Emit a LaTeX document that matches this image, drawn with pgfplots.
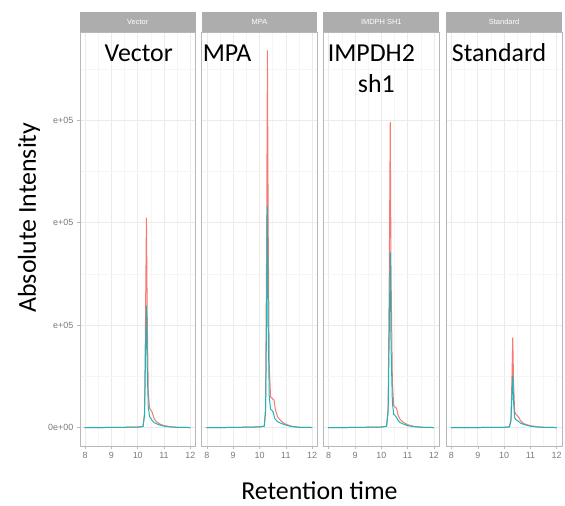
\documentclass[border=0pt]{standalone}
\usepackage{pgfplots}
\pgfplotsset{compat=1.18}
\usepackage{fontspec}
\setmainfont{Carlito}
\newfontfamily\arial{Liberation Sans}
\definecolor{gred}{HTML}{F47A72}
\definecolor{gteal}{HTML}{1CB5B8}
\definecolor{stripgray}{HTML}{ADADAD}
\definecolor{gridmaj}{HTML}{EBEBEB}
\definecolor{gridmin}{HTML}{F5F5F5}
\definecolor{bordercol}{HTML}{B8B8B8}
\definecolor{ticktext}{HTML}{7A7A7A}

\pgfplotsset{
  panel/.style={
    scale only axis, width=116bp, height=415bp, anchor=south west,
    xmin=7.8, xmax=12.2, ymin=-0.18, ymax=3.86,
    xtick={8,9,10,11,12}, xticklabels={8,9,10,11,12},
    minor xtick={8.5,9.5,10.5,11.5},
    ytick={0,1,2,3}, minor ytick={0.5,1.5,2.5,3.5},
    yticklabels={},
    grid=both,
    major grid style={gridmaj, line width=0.6bp},
    minor grid style={gridmin, line width=0.4bp},
    axis line style={bordercol, line width=0.7bp},
    tick style={bordercol, line width=0.5bp},
    major tick length=3bp, minor tick length=0pt,
    tick align=outside, tick pos=left,
    ticklabel style={font=\arial\fontsize{9}{10}\selectfont, text=ticktext},
    clip mode=individual,
    every axis plot/.append style={no markers, line width=1bp},
  },
  inner/.style={y tick style={draw=none}},
}
\newcommand\strip[1]{%
  \fill[stripgray] (rel axis cs:0,1) rectangle ([yshift=20bp]rel axis cs:1,1);
  \node[text=white, font=\arial\fontsize{7.5}{8}\selectfont] at ([yshift=10bp]rel axis cs:0.5,1) {#1};}

\begin{document}
\begin{tikzpicture}
\path (0,0) rectangle (565bp,506bp);

% Vector
\begin{axis}[panel, at={(80bp,59bp)}, yticklabels={0e+00,e+05,e+05,e+05}]
\strip{Vector}
\addplot[gred] coordinates {(7.98,0) (9,0.003) (10,0.006) (10.2,0.012) (10.26,0.15) (10.3,1.2) (10.33,2.05) (10.36,1.1) (10.4,0.35) (10.45,0.19) (10.5,0.17) (10.55,0.15) (10.62,0.09) (10.7,0.06) (10.85,0.035) (11,0.02) (11.3,0.008) (11.6,0.003) (12,0.002)};
\addplot[gteal] coordinates {(7.98,0) (9,0.003) (10,0.006) (10.2,0.012) (10.26,0.12) (10.3,0.8) (10.33,1.19) (10.36,0.6) (10.4,0.2) (10.45,0.11) (10.5,0.09) (10.55,0.07) (10.62,0.05) (10.7,0.04) (10.85,0.025) (11,0.015) (11.3,0.006) (11.6,0.003) (12,0.002)};
\end{axis}

% MPA
\begin{axis}[panel, inner, at={(202bp,59bp)}]
\strip{MPA}
\addplot[gred] coordinates {(7.98,0) (9,0.003) (10,0.008) (10.18,0.015) (10.23,0.2) (10.27,1.8) (10.3,3.68) (10.33,1.9) (10.37,0.6) (10.42,0.3) (10.47,0.29) (10.55,0.27) (10.6,0.18) (10.68,0.11) (10.8,0.07) (10.95,0.04) (11.2,0.015) (11.5,0.005) (12,0.002)};
\addplot[gteal] coordinates {(7.98,0) (9,0.003) (10,0.008) (10.18,0.015) (10.23,0.15) (10.27,1.1) (10.3,2.16) (10.33,1.0) (10.37,0.3) (10.42,0.18) (10.47,0.17) (10.52,0.15) (10.58,0.09) (10.68,0.06) (10.8,0.045) (10.95,0.03) (11.2,0.012) (11.5,0.004) (12,0.002)};
\end{axis}

% IMPDH SH1
\begin{axis}[panel, inner, at={(324bp,59bp)}]
\strip{IMDPH SH1}
\addplot[gred] coordinates {(7.98,0) (9,0.003) (10,0.007) (10.2,0.014) (10.26,0.2) (10.3,1.4) (10.34,2.98) (10.37,1.5) (10.42,0.45) (10.47,0.22) (10.52,0.2) (10.58,0.19) (10.64,0.12) (10.72,0.08) (10.85,0.05) (11,0.03) (11.25,0.012) (11.6,0.004) (12,0.002)};
\addplot[gteal] coordinates {(7.98,0) (9,0.003) (10,0.007) (10.2,0.014) (10.26,0.15) (10.3,0.9) (10.34,1.71) (10.37,0.8) (10.42,0.25) (10.47,0.13) (10.52,0.12) (10.58,0.1) (10.64,0.07) (10.72,0.05) (10.85,0.035) (11,0.02) (11.25,0.01) (11.6,0.003) (12,0.002)};
\end{axis}

% Standard
\begin{axis}[panel, inner, at={(447bp,59bp)}]
\strip{Standard}
\addplot[gred] coordinates {(7.98,0) (9,0.002) (10,0.004) (10.2,0.008) (10.26,0.08) (10.3,0.5) (10.33,0.88) (10.36,0.45) (10.4,0.16) (10.45,0.13) (10.5,0.12) (10.56,0.1) (10.62,0.07) (10.72,0.045) (10.85,0.03) (11,0.02) (11.3,0.008) (11.6,0.003) (12,0.002)};
\addplot[gteal] coordinates {(7.98,0) (9,0.002) (10,0.004) (10.2,0.008) (10.26,0.06) (10.3,0.32) (10.33,0.51) (10.36,0.25) (10.4,0.1) (10.45,0.08) (10.5,0.07) (10.56,0.06) (10.62,0.045) (10.72,0.035) (10.85,0.025) (11,0.015) (11.3,0.006) (11.6,0.003) (12,0.002)};
\end{axis}

% overlaid labels
\begin{scope}[every node/.style={font=\fontsize{26}{31}\selectfont, inner sep=0pt}]
\node[anchor=base] at (139bp,444bp) {Vector};
\node[anchor=base west] at (203bp,444bp) {MPA};
\node[anchor=base] at (372bp,444bp) {IMPDH2};
\node[anchor=base] at (377bp,413bp) {sh1};
\node[anchor=base] at (500bp,444bp) {Standard};
\node[rotate=90] at (29bp,288bp) {Absolute Intensity};
\node[anchor=base] at (320bp,6bp) {Retention time};
\end{scope}
\end{tikzpicture}
\end{document}
